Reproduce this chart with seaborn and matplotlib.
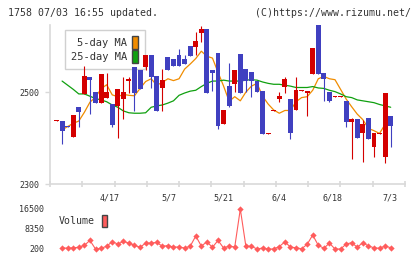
import numpy as np
import pandas as pd
import matplotlib
matplotlib.use("Agg")
import matplotlib.pyplot as plt
from matplotlib.patches import Patch
import seaborn as sns

# datos de precios (61 dias, del 4/5 al 7/3)
opens = [2438, 2437, 2426, 2403, 2467, 2496, 2533, 2501, 2477, 2488,
         2474, 2470, 2485, 2525, 2555, 2548, 2555, 2580, 2535, 2509,
         2577, 2573, 2580, 2572, 2600, 2598, 2629, 2638, 2549, 2584,
         2430, 2513, 2517, 2583, 2550, 2543, 2524, 2502, 2408, 2459,
         2485, 2512, 2485, 2461, 2502, 2498, 2540, 2645, 2541, 2501,
         2489, 2489, 2480, 2435, 2441, 2412, 2443, 2381, 2409, 2359,
         2448]
highs = [2440, 2437, 2426, 2450, 2467, 2557, 2533, 2501, 2539, 2541,
         2474, 2506, 2532, 2532, 2555, 2548, 2580, 2580, 2535, 2551,
         2577, 2573, 2594, 2580, 2600, 2630, 2644, 2638, 2549, 2584,
         2462, 2564, 2548, 2583, 2550, 2543, 2524, 2502, 2410, 2461,
         2501, 2533, 2485, 2532, 2504, 2502, 2596, 2645, 2541, 2501,
         2491, 2491, 2480, 2443, 2441, 2439, 2443, 2411, 2411, 2498,
         2448]
lows = [2438, 2386, 2424, 2403, 2425, 2496, 2452, 2477, 2477, 2488,
        2425, 2401, 2441, 2498, 2459, 2506, 2548, 2509, 2459, 2459,
        2548, 2557, 2557, 2562, 2579, 2580, 2609, 2498, 2503, 2419,
        2430, 2468, 2501, 2497, 2501, 2490, 2501, 2409, 2408, 2459,
        2479, 2498, 2398, 2461, 2502, 2448, 2540, 2540, 2481, 2479,
        2489, 2489, 2424, 2355, 2401, 2348, 2398, 2359, 2409, 2346,
        2381]
closes = [2440, 2416, 2424, 2450, 2457, 2535, 2526, 2477, 2539, 2501,
          2428, 2506, 2501, 2528, 2498, 2506, 2580, 2533, 2459, 2526,
          2548, 2557, 2557, 2562, 2579, 2611, 2638, 2498, 2542, 2427,
          2462, 2470, 2548, 2498, 2524, 2524, 2501, 2409, 2410, 2461,
          2491, 2528, 2412, 2504, 2504, 2502, 2596, 2540, 2528, 2481,
          2491, 2491, 2435, 2441, 2401, 2430, 2398, 2411, 2411, 2498,
          2427]

# medias moviles y volumen (desde el segundo dia)
ma5 = [2418, 2425, 2432, 2437, 2456, 2478, 2489, 2507, 2516, 2494,
       2490, 2495, 2493, 2492, 2508, 2523, 2529, 2515, 2521, 2529,
       2525, 2529, 2550, 2561, 2573, 2589, 2578, 2574, 2543, 2513,
       2480, 2490, 2481, 2500, 2513, 2519, 2491, 2474, 2461, 2454,
       2460, 2460, 2479, 2488, 2490, 2504, 2529, 2534, 2529, 2527,
       2506, 2485, 2468, 2452, 2440, 2421, 2416, 2410, 2430, 2429]
ma25 = [2524, 2515, 2506, 2496, 2496, 2491, 2486, 2483, 2479, 2472,
        2467, 2459, 2455, 2454, 2454, 2455, 2467, 2470, 2472, 2476,
        2481, 2493, 2498, 2502, 2504, 2512, 2519, 2524, 2524, 2526,
        2524, 2524, 2524, 2526, 2527, 2526, 2522, 2519, 2517, 2517,
        2515, 2513, 2510, 2510, 2510, 2512, 2509, 2508, 2504, 2501,
        2496, 2490, 2488, 2483, 2481, 2479, 2477, 2473, 2470, 2467]
volume = [700, 500, 700, 900, 1700, 3700, 200, 500, 1300, 3200,
          2200, 3300, 2600, 1700, 900, 2600, 2600, 2900, 1300, 1600,
          1000, 1000, 600, 1300, 5500, 1400, 3100, 900, 3700, 600,
          1400, 1000, 16500, 1300, 1300, 200, 600, 200, 200, 1200,
          3100, 1000, 700, 300, 2100, 5900, 1700, 500, 2600, 200,
          200, 2200, 2800, 900, 2800, 1400, 700, 500, 1400, 700]

fecha_labels = ["4/17", "5/7", "5/21", "6/4", "6/18", "7/3"]
fecha_pos = [9.6, 20.2, 29.9, 39.9, 49.6, 59.8]

df = pd.DataFrame({"open": opens, "high": highs, "low": lows, "close": closes})
df["dia"] = np.arange(len(df))
df_ma = pd.DataFrame({"dia": df["dia"][1:].values, "ma5": ma5, "ma25": ma25, "vol": volume})

sns.set_theme(style="white")
plt.rcParams["font.family"] = ["DejaVu Sans Mono"]
gris = "#d9d9d9"
texto = "#333333"
rojo = "#d40000"
azul = "#4040c0"
naranja = "#f08c00"
verde = "#10a010"
vol_color = "#ff5c5c"

fig = plt.figure(figsize=(4.2, 2.59), dpi=100)
ax = fig.add_axes([50 / 420, 1 - 184 / 259, 355 / 420, 159 / 259])
axv = fig.add_axes([50 / 420, 1 - 253 / 259, 355 / 420, 48 / 259])

xlim = (-1.17, 62.57)

# lineas de medias moviles
sns.lineplot(data=df_ma, x="dia", y="ma5", ax=ax, color=naranja, lw=0.9, estimator=None, zorder=1)
sns.lineplot(data=df_ma, x="dia", y="ma25", ax=ax, color=verde, lw=0.9, estimator=None, zorder=1)

# velas
sube = df["close"] >= df["open"]
colores = np.where(sube, rojo, azul)
ax.vlines(df["dia"], df["low"], df["high"], colors=colores, lw=0.8, zorder=3)
cuerpo = (df["close"] - df["open"]).abs().clip(lower=2)
base = df[["open", "close"]].min(axis=1)
ax.bar(df["dia"], cuerpo, bottom=base, width=0.88, color=colores, lw=0, zorder=4)

ax.set_xlim(xlim)
ax.set_ylim(2300, 2646)
ax.set_xlabel("")
ax.set_ylabel("")
for s in ["top", "right"]:
    ax.spines[s].set_visible(False)
for s in ["left", "bottom"]:
    ax.spines[s].set_color(gris)
    ax.spines[s].set_linewidth(1.2)
ax.set_xticks(np.linspace(xlim[0], xlim[1], 12))
ax.set_xticklabels([])
ax.tick_params(axis="x", direction="inout", length=4.7, width=1.2, color=gris, bottom=True)
ax.set_yticks([2300, 2500])
ax.tick_params(axis="y", direction="out", length=3.6, width=1.0, color=gris, pad=4.1,
               labelsize=6, labelcolor=texto, left=True)

for p, l in zip(fecha_pos, fecha_labels):
    ax.annotate(l, xy=(p, 0), xycoords=("data", "axes fraction"), xytext=(0, -10.3),
                textcoords="offset points", ha="center", va="center", fontsize=6, color=texto)

handles = [Patch(facecolor=naranja, edgecolor="#444444", lw=1),
           Patch(facecolor=verde, edgecolor="#444444", lw=1)]
leg = ax.legend(handles, ["5-day MA", "25-day MA"], markerfirst=False, loc="upper left",
                bbox_to_anchor=(0.042, 0.969), borderaxespad=0, frameon=True, fancybox=False,
                edgecolor="#d0d0d0", framealpha=1, fontsize=7.5, handlelength=0.58,
                handleheight=1.55, handletextpad=0.48, labelspacing=0.05, borderpad=0.6)
leg.get_frame().set_linewidth(1.0)
leg.set_zorder(2)
for t in leg.get_texts():
    t.set_color(texto)

# volumen
sns.lineplot(data=df_ma, x="dia", y="vol", ax=axv, color=vol_color, lw=0.8, marker="D",
             markersize=3.2, markeredgewidth=0, estimator=None)
axv.set_xlim(xlim)
axv.set_ylim(200 - 4 * 407.5, 16500 + 4 * 407.5)
axv.set_xlabel("")
axv.set_ylabel("")
for s in axv.spines.values():
    s.set_visible(False)
axv.set_xticks([])
axv.set_yticks([200, 8350, 16500])
axv.tick_params(axis="y", length=0, pad=4.1, labelsize=6, labelcolor=texto)
legv = axv.legend([Patch(facecolor=vol_color, edgecolor="#444444", lw=1)], ["Volume"],
                  markerfirst=False, loc="center left", bbox_to_anchor=(0.025, 0.667),
                  frameon=False, fontsize=7.1, handlelength=0.54, handleheight=1.45,
                  handletextpad=0.72, borderpad=0, borderaxespad=0)
for t in legv.get_texts():
    t.set_color(texto)

fig.text(8 / 420, 1 - 12.7 / 259, "1758 07/03 16:55 updated.", ha="left", va="center",
         fontsize=7.1, color=texto)
fig.text(255 / 420, 1 - 12.7 / 259, "(C)https://www.rizumu.net/", ha="left", va="center",
         fontsize=7.1, color=texto)

fig.savefig("out.png", dpi=100, facecolor="white")
